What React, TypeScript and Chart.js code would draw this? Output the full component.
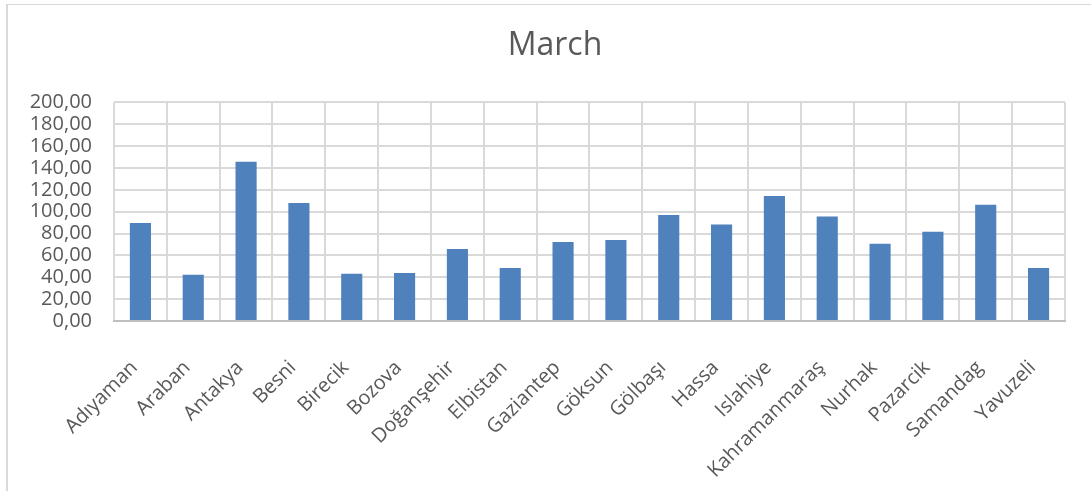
import React, { useEffect, useRef } from "react";
import { Chart, registerables } from "chart.js";

Chart.register(...registerables);

// Districts on the category axis
const districts: string[] = [
  "Adıyaman",
  "Araban",
  "Antakya",
  "Besni",
  "Birecik",
  "Bozova",
  "Doğanşehir",
  "Elbistan",
  "Gaziantep",
  "Göksun",
  "Gölbaşı",
  "Hassa",
  "Islahiye",
  "Kahramanmaraş",
  "Nurhak",
  "Pazarcik",
  "Samandag",
  "Yavuzeli",
];

// March values per district
const marchValues: number[] = [
  89.6, 42.3, 145.6, 108.0, 43.2, 44.0, 65.8, 48.4, 72.2,
  74.0, 97.0, 88.4, 114.4, 95.7, 70.6, 81.7, 106.4, 48.6,
];

// Value axis range
const yMin = 0;
const yMax = 200;
const yStep = 20;

const chartTitle = "March";

const FONT = "'Open Sans', 'DejaVu Sans', sans-serif";
const TEXT = "#595959";
const GRID = "#d9d9d9";

// Let the value-axis labels use the space left of the layout padding
const widenLabelArea = {
  id: "widenLabelArea",
  afterLayout(chart: any) {
    const y = chart.scales.y;
    if (y) y.left = 0;
  },
};

export default function App() {
  const canvasRef = useRef<HTMLCanvasElement | null>(null);

  useEffect(() => {
    if (!canvasRef.current) return;
    const chart = new Chart(canvasRef.current, {
      type: "bar",
      data: {
        labels: districts,
        datasets: [
          {
            label: chartTitle,
            data: marchValues,
            backgroundColor: "#4F81BD",
            borderWidth: 0,
            categoryPercentage: 1,
            barPercentage: 0.4,
          },
        ],
      },
      plugins: [widenLabelArea],
      options: {
        responsive: false,
        animation: false,
        layout: { padding: { left: 36, right: 17, top: 0, bottom: 0 } },
        plugins: {
          legend: { display: false },
          tooltip: { enabled: false },
          title: {
            display: true,
            text: chartTitle,
            color: TEXT,
            font: { family: FONT, size: 32, weight: "normal" },
            padding: { top: 27, bottom: 37 },
          },
        },
        scales: {
          x: {
            grid: { color: GRID, lineWidth: 2, drawTicks: false, offset: true },
            border: { color: "#bfbfbf", width: 2 },
            ticks: {
              color: TEXT,
              font: { family: FONT, size: 20 },
              minRotation: 45,
              maxRotation: 45,
              autoSkip: false,
              padding: 35,
              labelOffset: -6,
            },
            afterFit: (scale: any) => {
              scale.height = 170;
            },
          },
          y: {
            min: yMin,
            max: yMax,
            grid: { color: GRID, lineWidth: 2, drawTicks: false },
            border: { display: false },
            ticks: {
              stepSize: yStep,
              autoSkip: false,
              color: TEXT,
              font: { family: FONT, size: 20 },
              padding: 22,
              callback: (v: any) => Number(v).toFixed(2).replace(".", ","),
            },
            afterFit: (scale: any) => {
              scale.width = 78;
            },
          },
        },
      },
    });
    return () => chart.destroy();
  }, []);

  return (
    <div
      style={{
        position: "fixed",
        left: 0,
        top: 0,
        width: 1091,
        height: 491,
        overflow: "hidden",
        background: "#ffffff",
      }}
    >
      <div
        style={{
          position: "absolute",
          left: 6,
          top: 4,
          width: 1200,
          height: 600,
          borderLeft: "2px solid " + GRID,
          borderTop: "1px solid " + GRID,
        }}
      />
      <canvas
        ref={canvasRef}
        width={1091}
        height={491}
        style={{ position: "absolute", left: 0, top: 0 }}
      />
    </div>
  );
}
